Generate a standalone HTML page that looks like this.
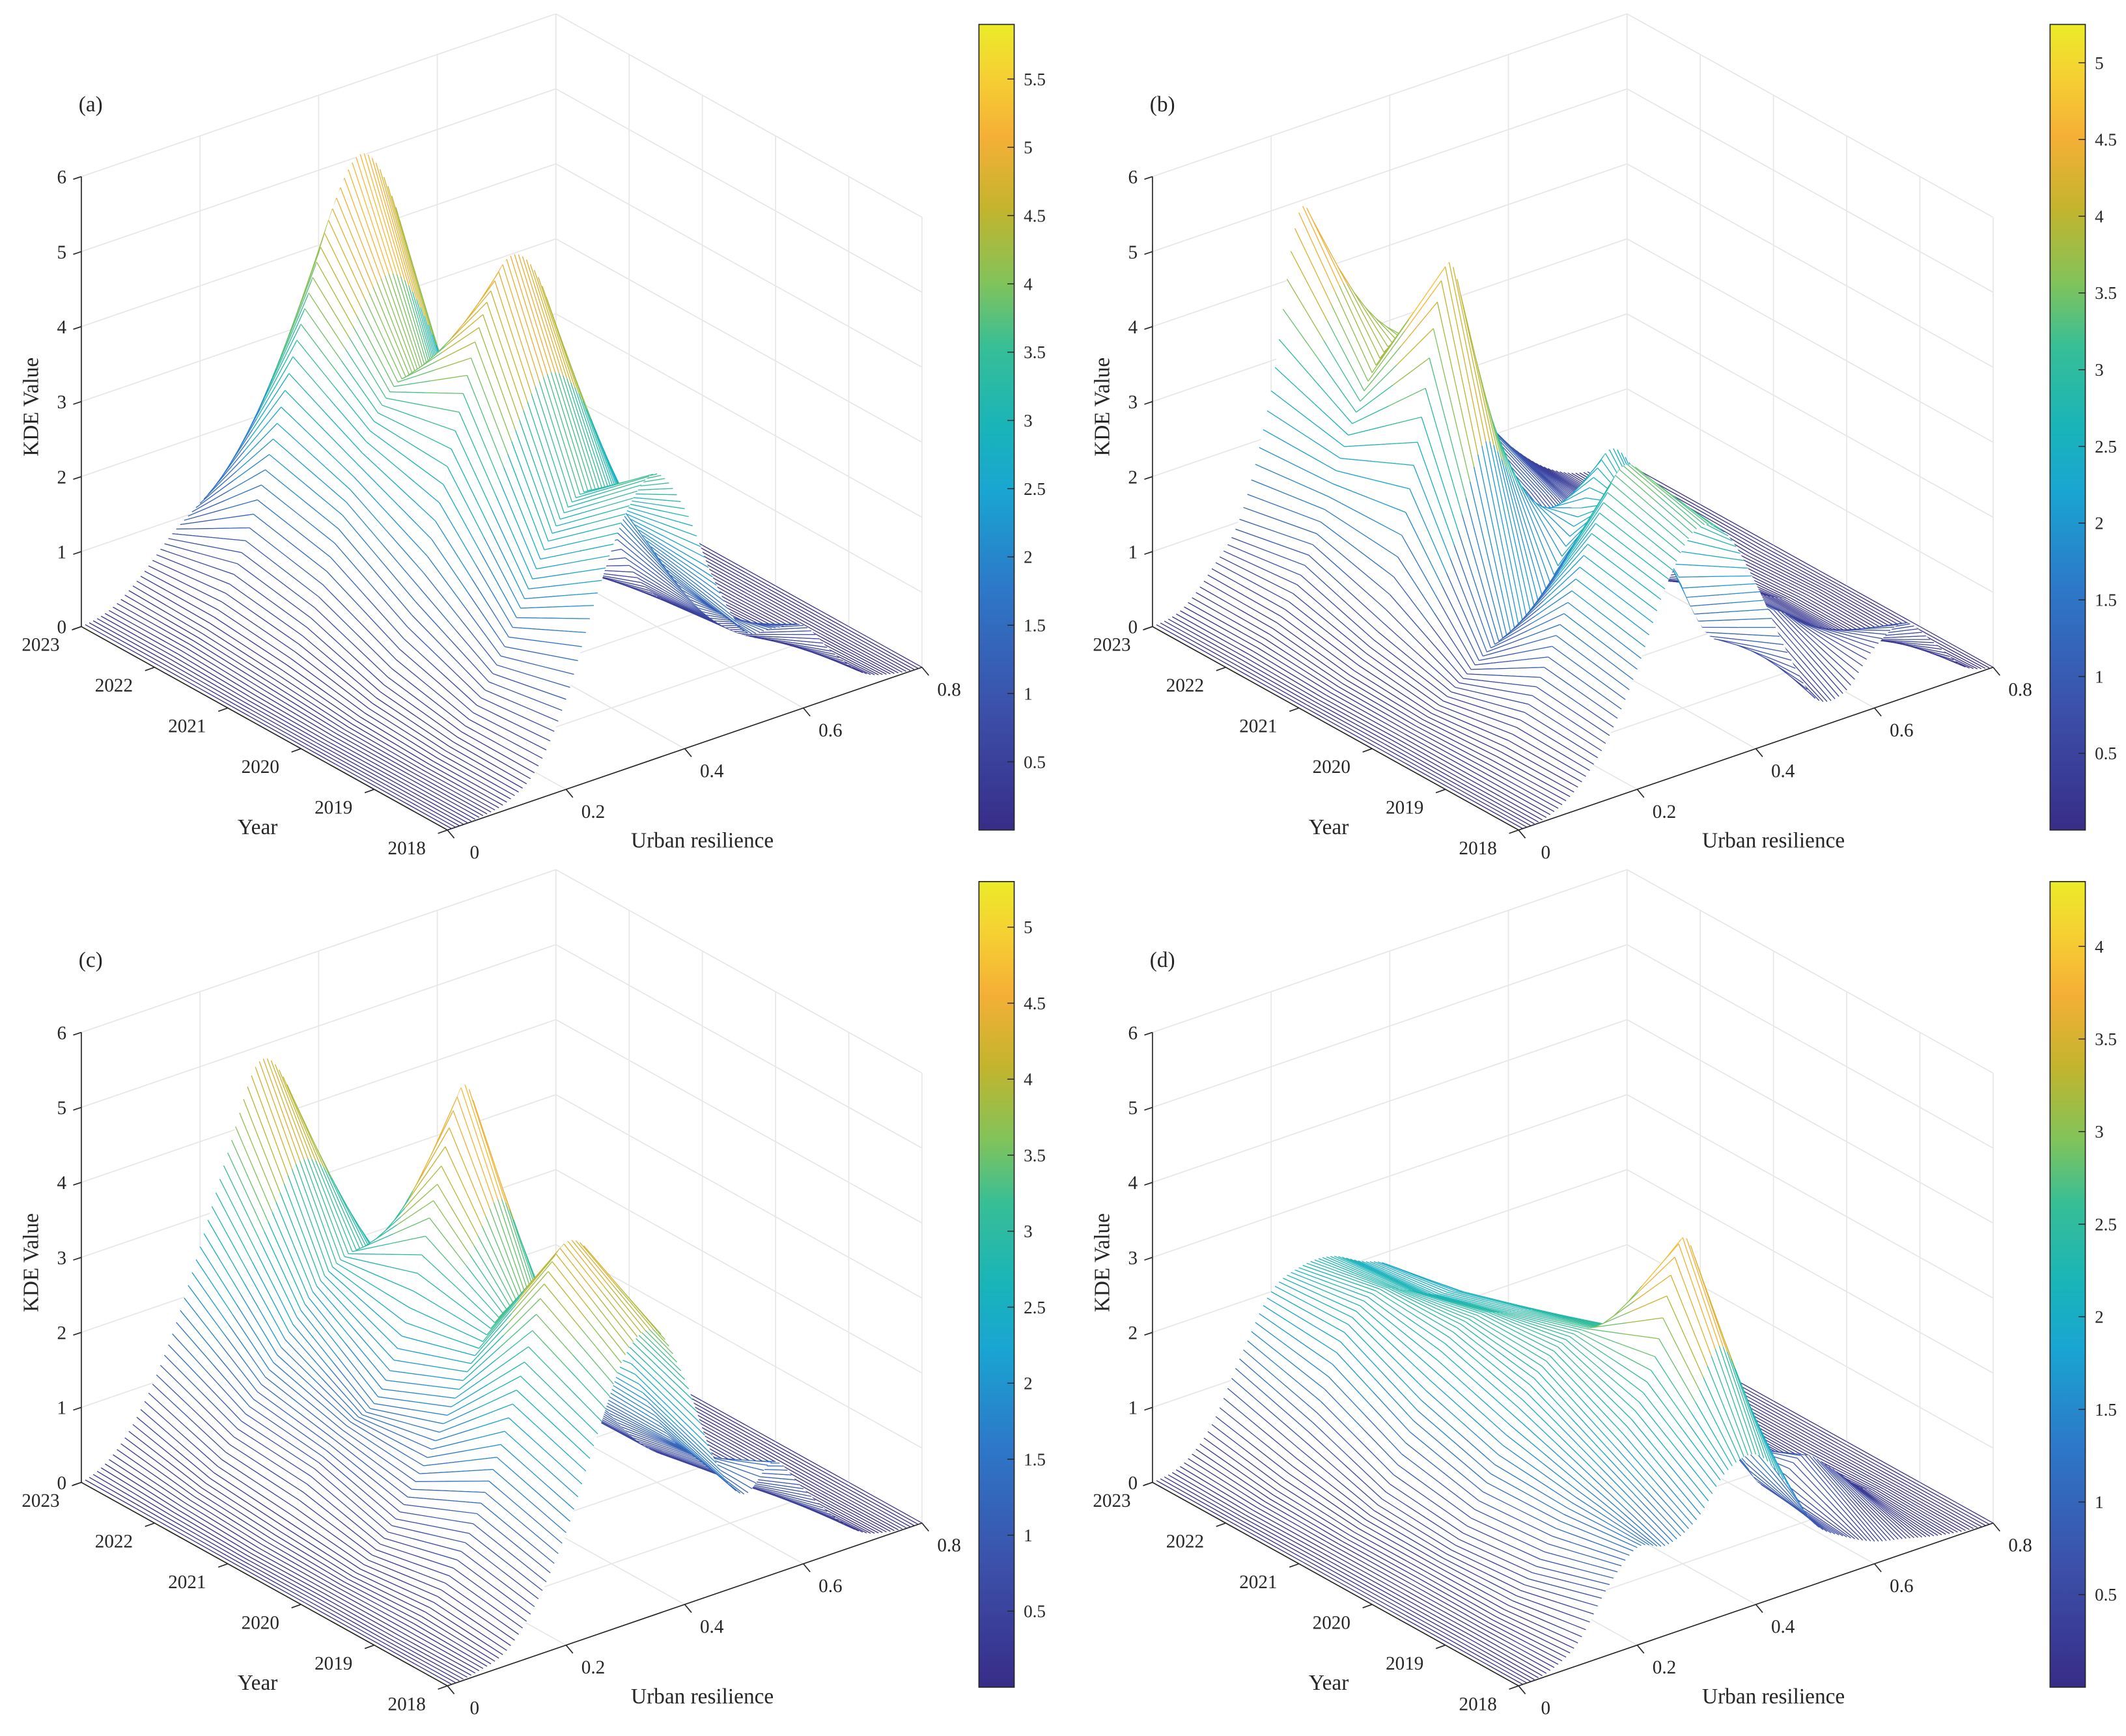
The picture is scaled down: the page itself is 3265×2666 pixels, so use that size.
<!DOCTYPE html>
<html>
<head>
<meta charset="utf-8">
<style>
html,body{margin:0;padding:0;background:#fff;}
svg{display:block;}
text{font-family:"Liberation Serif","Times New Roman",serif;fill:#262626;}
</style>
</head>
<body>
<svg id="chart" width="3265" height="2666" viewBox="0 0 1568 1280" preserveAspectRatio="none" xmlns="http://www.w3.org/2000/svg">
<defs>
<linearGradient id="parula" x1="0" y1="1" x2="0" y2="0">
<stop offset="0" stop-color="#372d87"/>
<stop offset="0.15" stop-color="#3c50aa"/>
<stop offset="0.3" stop-color="#2d78c8"/>
<stop offset="0.42" stop-color="#19a5d2"/>
<stop offset="0.5" stop-color="#19b4b9"/>
<stop offset="0.6" stop-color="#37be96"/>
<stop offset="0.68" stop-color="#82c35a"/>
<stop offset="0.77" stop-color="#c3b42d"/>
<stop offset="0.86" stop-color="#f5af37"/>
<stop offset="0.94" stop-color="#f5d232"/>
<stop offset="1" stop-color="#ebeb28"/>
</linearGradient>
</defs>
</svg>
<script>
// ---- data (x grid, years, KDE values per panel per year) ----
const X_GRID = [0,0.05,0.1,0.15,0.2,0.25,0.3,0.35,0.4,0.45,0.5,0.55,0.6,0.65,0.7,0.75,0.8];
const YEARS = ['2023','2022','2021','2020','2019','2018'];
const X_TICKS = ['0','0.2','0.4','0.6','0.8'];
const Z_TICKS = ['0','1','2','3','4','5','6'];

const A_2023 = [0,0.1,0.4,0.8,1.1,1.4,1.7,1.8,1.7,1.4,1.0,0.7,0.4,0.2,0.1,0.03,0];
const A_2022 = [0,0.1,0.4,1.2,2.5,4.0,5.3,5.9,5.2,3.6,2.0,1.0,0.5,0.25,0.1,0.03,0];
const A_2021 = [0,0.05,0.3,1.0,2.2,3.2,3.6,3.2,2.3,1.4,0.8,0.4,0.2,0.1,0.05,0.02,0];
const A_2020 = [0,0.02,0.15,0.6,1.6,3.2,4.8,5.6,5.2,3.8,2.2,1.0,0.4,0.15,0.05,0.02,0];
const A_2019 = [0,0.02,0.1,0.4,1.0,1.8,2.6,3.0,2.8,2.2,1.5,0.9,0.5,0.25,0.1,0.03,0];
const A_2018 = [0,0.02,0.1,0.4,1.2,2.4,3.4,3.8,3.2,2.1,1.3,1.2,1.1,0.6,0.2,0.05,0];

const B_2023 = [0,0.1,0.5,1.1,2.6,4.9,3.6,1.9,1.5,1.5,1.5,1.3,0.8,0.4,0.15,0.05,0];
const B_2022 = [0,0.1,0.5,1.3,2.4,3.3,3.6,3.0,1.8,1.2,1.0,0.8,0.5,0.3,0.1,0.05,0];
const B_2021 = [0,0.05,0.3,1.0,3.0,5.25,3.6,1.8,0.9,0.5,0.3,0.2,0.1,0.05,0.02,0,0];
const B_2020 = [0,0.05,0.2,0.5,0.8,1.0,1.4,2.2,2.9,2.4,1.5,0.9,0.5,0.3,0.1,0.05,0];
const B_2019 = [0,0.05,0.3,0.9,1.8,2.8,3.5,3.0,1.6,0.8,0.8,0.9,0.6,0.3,0.1,0.03,0];
const B_2018 = [0,0.05,0.3,0.8,1.6,2.6,3.2,3.0,2.2,1.2,0.4,0.35,0.8,1.0,0.6,0.15,0];

const C_2023 = [0,0.2,0.7,1.5,2.6,3.8,4.8,4.3,2.8,1.6,1.0,0.6,0.3,0.15,0.05,0.02,0];
const C_2022 = [0,0.1,0.4,1.0,1.6,2.2,2.6,2.7,2.3,1.6,1.0,0.6,0.3,0.15,0.05,0.02,0];
const C_2021 = [0,0.05,0.3,0.9,1.3,1.5,2.4,4.0,5.3,3.6,1.8,0.8,0.4,0.2,0.05,0.02,0];
const C_2020 = [0,0.05,0.2,0.6,1.2,1.9,2.6,3.0,2.8,2.2,1.4,0.8,0.4,0.2,0.05,0.02,0];
const C_2019 = [0,0.05,0.3,0.9,1.8,3.0,4.3,4.4,3.4,2.2,1.4,1.0,0.6,0.3,0.1,0.02,0];
const C_2018 = [0,0.05,0.2,0.7,1.5,2.6,3.6,3.8,3.0,1.8,1.2,1.5,1.0,0.5,0.15,0.03,0];

const D_2023 = [0,0.1,0.5,1.3,2.0,2.2,2.2,2.0,1.8,1.2,0.6,0.3,0.2,0.1,0.05,0.02,0];
const D_2022 = [0,0.05,0.3,1.0,2.0,2.4,2.3,2.1,2.0,1.6,1.0,0.6,0.4,0.2,0.1,0.03,0];
const D_2021 = [0,0.05,0.2,0.6,1.5,2.3,2.5,2.4,2.3,2.0,1.3,0.7,0.4,0.2,0.1,0.03,0];
const D_2020 = [0,0.05,0.2,0.5,1.2,2.0,2.5,2.7,2.6,2.4,1.8,1.0,0.5,0.3,0.1,0.03,0];
const D_2019 = [0,0.05,0.2,0.6,1.2,1.6,2.0,2.8,4.35,3.0,1.2,0.6,0.9,0.6,0.2,0.05,0];
const D_2018 = [0,0.05,0.3,0.9,1.3,1.2,1.4,1.9,2.0,1.5,0.8,0.5,0.3,0.2,0.1,0.03,0];

const PANEL_LABELS = ['(a)','(b)','(c)','(d)'];
const PANEL_ROWS = [
  [A_2023,A_2022,A_2021,A_2020,A_2019,A_2018],
  [B_2023,B_2022,B_2021,B_2020,B_2019,B_2018],
  [C_2023,C_2022,C_2021,C_2020,C_2019,C_2018],
  [D_2023,D_2022,D_2021,D_2020,D_2019,D_2018]
];

// ---- layout ----
const NS = 'http://www.w3.org/2000/svg';
const svg = document.getElementById('chart');
const ORIGINS = [[60,462],[850,462],[60,1093],[850,1093]];
const CBAR = [[722,18],[1512,18],[722,650],[1512,650]];
const CB_W = 26, CB_H = 594;
const YSTEP = [54,30], XUNIT = [437.5,-150], ZUNIT = -55.3;
const X_MAX = 0.8, Z_MAX = 6;

const CMAP_POS = [0,0.15,0.3,0.42,0.5,0.6,0.68,0.77,0.86,0.94,1];
const CMAP_RGB = [[55,45,135],[60,80,170],[45,120,200],[25,165,210],[25,180,185],[55,190,150],[130,195,90],[195,180,45],[245,175,55],[245,210,50],[235,235,40]];
function parula(t){
  t = Math.max(0,Math.min(1,t));
  let k = 0;
  while (k < CMAP_POS.length-2 && t > CMAP_POS[k+1]) k++;
  const u = (t-CMAP_POS[k])/(CMAP_POS[k+1]-CMAP_POS[k]);
  const a = CMAP_RGB[k], b = CMAP_RGB[k+1];
  return 'rgb('+a.map((v,j)=>Math.round(v+(b[j]-v)*u)).join(',')+')';
}

function el(tag, attrs, parent){
  const e = document.createElementNS(NS, tag);
  for (const k in attrs) e.setAttribute(k, attrs[k]);
  (parent||svg).appendChild(e);
  return e;
}

function resample(row, xs){
  const h = X_GRID[1]-X_GRID[0], n = row.length;
  const k = Math.min(n-2, Math.floor(xs/h + 1e-9)), t = xs/h - k;
  const p0 = row[Math.max(0,k-1)], p1 = row[k], p2 = row[k+1], p3 = row[Math.min(n-1,k+2)];
  const v = 0.5*((2*p1)+(-p0+p2)*t+(2*p0-5*p1+4*p2-p3)*t*t+(-p0+3*p1-3*p2+p3)*t*t*t);
  return Math.max(0,v);
}

PANEL_ROWS.forEach((rows, pi) => {
  const [ox, oy] = ORIGINS[pi];
  const P = (i, x, z) => [ox + YSTEP[0]*i + XUNIT[0]*x, oy + YSTEP[1]*i + XUNIT[1]*x + ZUNIT*z];
  const g = el('g', {});
  
  

  const grid = el('g', {stroke:'#e6e6e6','stroke-width':0.8, fill:'none'}, g);
  
  
  const line = (a,b,par,attrs) => el('line', Object.assign({x1:a[0].toFixed(2),y1:a[1].toFixed(2),x2:b[0].toFixed(2),y2:b[1].toFixed(2)}, attrs||{}), par);
  for (let z = 0; z <= Z_MAX; z++) {
    line(P(0,0,z), P(0,X_MAX,z), grid);
    line(P(0,X_MAX,z), P(5,X_MAX,z), grid);
  }
  for (let j = 0; j <= 4; j++) {
    const x = j*0.2;
    line(P(0,x,0), P(0,x,Z_MAX), grid);
    line(P(0,x,0), P(5,x,0), grid);
  }
  for (let i = 0; i <= 5; i++) {
    line(P(i,X_MAX,0), P(i,X_MAX,Z_MAX), grid);
    line(P(i,0,0), P(i,X_MAX,0), grid);
  }

  const NX = 121;
  const zs = rows.map(r => { const a = []; for (let k = 0; k < NX; k++) a.push(resample(r, k*X_MAX/(NX-1))); return a; });
  let zmax = 0; rows.forEach(r => r.forEach(v => { if (v > zmax) zmax = v; }));
  const cmax = zmax;
  const mesh = el('g', {'stroke-width':0.6, fill:'none'}, g);
  
  
  const cells = [];
  for (let i = 0; i < 5; i++) for (let k = 0; k < NX-1; k++) {
    const xc = (k+0.5)*X_MAX/(NX-1);
    cells.push({i, k, key: YSTEP[1]*(i+0.5) + XUNIT[1]*xc});
  }
  cells.sort((a,b) => a.key - b.key);
  const rib = (i, k) => {
    const x = k*X_MAX/(NX-1), z1 = zs[i][k], z2 = zs[i+1][k];
    const S = 2;
    for (let s = 0; s < S; s++) {
      const t1 = s/S, t2 = (s+1)/S;
      const a = P(i+t1, x, z1+(z2-z1)*t1), b = P(i+t2, x, z1+(z2-z1)*t2);
      const zm = z1 + (z2-z1)*(t1+t2)/2;
      line(a, b, mesh, {stroke: parula(zm/cmax)});
    }
  };
  cells.forEach(c => {
    const {i, k} = c;
    const x1 = k*X_MAX/(NX-1), x2 = (k+1)*X_MAX/(NX-1);
    const pts = [P(i,x1,zs[i][k]), P(i,x2,zs[i][k+1]), P(i+1,x2,zs[i+1][k+1]), P(i+1,x1,zs[i+1][k])];
    el('polygon', {points: pts.map(p => p[0].toFixed(2)+','+p[1].toFixed(2)).join(' '), fill:'#fff', stroke:'none'}, mesh);
    rib(i, k);
    rib(i, k+1);
  });

  const ax = el('g', {stroke:'#262626','stroke-width':0.8}, g);
  
  
  line(P(0,0,0), P(0,0,Z_MAX), ax);
  line(P(0,0,0), P(5,0,0), ax);
  line(P(5,0,0), P(5,X_MAX,0), ax);
  Z_TICKS.forEach(lab => {
    const p = P(0,0,+lab);
    line(p, [p[0]-6, p[1]+2], ax);
    const t = el('text', {x:(p[0]-11).toFixed(1), y:(p[1]+5).toFixed(1), 'text-anchor':'end','font-size':14}, g);
    t.textContent = lab;
    
    
  });
  YEARS.forEach((lab, i) => {
    const p = P(i,0,0);
    line(p, [p[0]-7, p[1]+2.5], ax);
    const t = el('text', {x:(p[0]-30).toFixed(1), y:(p[1]+18).toFixed(1), 'text-anchor':'middle','font-size':14}, g);
    t.textContent = lab;
    
    
  });
  X_TICKS.forEach(lab => {
    const p = P(5,+lab,0);
    line(p, [p[0]+5, p[1]+6], ax);
    const t = el('text', {x:(p[0]+20).toFixed(1), y:(p[1]+21).toFixed(1), 'text-anchor':'middle','font-size':14}, g);
    t.textContent = lab;
    
    
  });
  const zt = el('text', {x:0, y:0, transform:'translate('+(ox-32)+','+(oy-162)+') rotate(-90)', 'text-anchor':'middle','font-size':16}, g);
  zt.textContent = 'KDE Value';
  
  
  const yt = el('text', {x:ox+130, y:oy+153, 'text-anchor':'middle','font-size':16}, g);
  yt.textContent = 'Year';
  
  
  const xt = el('text', {x:ox+458, y:oy+163, 'text-anchor':'middle','font-size':16}, g);
  xt.textContent = 'Urban resilience';
  
  
  const pl = el('text', {x:ox-2, y:oy-380, 'font-size':16}, g);
  pl.textContent = PANEL_LABELS[pi];
  
  

  const [cx, cy] = CBAR[pi];
  const cb = el('g', {}, g);
  
  
  el('rect', {x:cx, y:cy, width:CB_W, height:CB_H, fill:'url(#parula)', stroke:'#262626','stroke-width':0.8}, cb);
  for (let v = 0.5; v <= cmax + 1e-9; v += 0.5) {
    const y = cy + CB_H - v/cmax*CB_H;
    line([cx+CB_W-5, y], [cx+CB_W, y], cb, {stroke:'#262626','stroke-width':0.7});
    const t = el('text', {x:cx+CB_W+7, y:(y+4.5).toFixed(1), 'font-size':13}, cb);
    t.textContent = (Math.round(v*10)/10).toString();
    
    
  }
});
</script>
</body>
</html>
